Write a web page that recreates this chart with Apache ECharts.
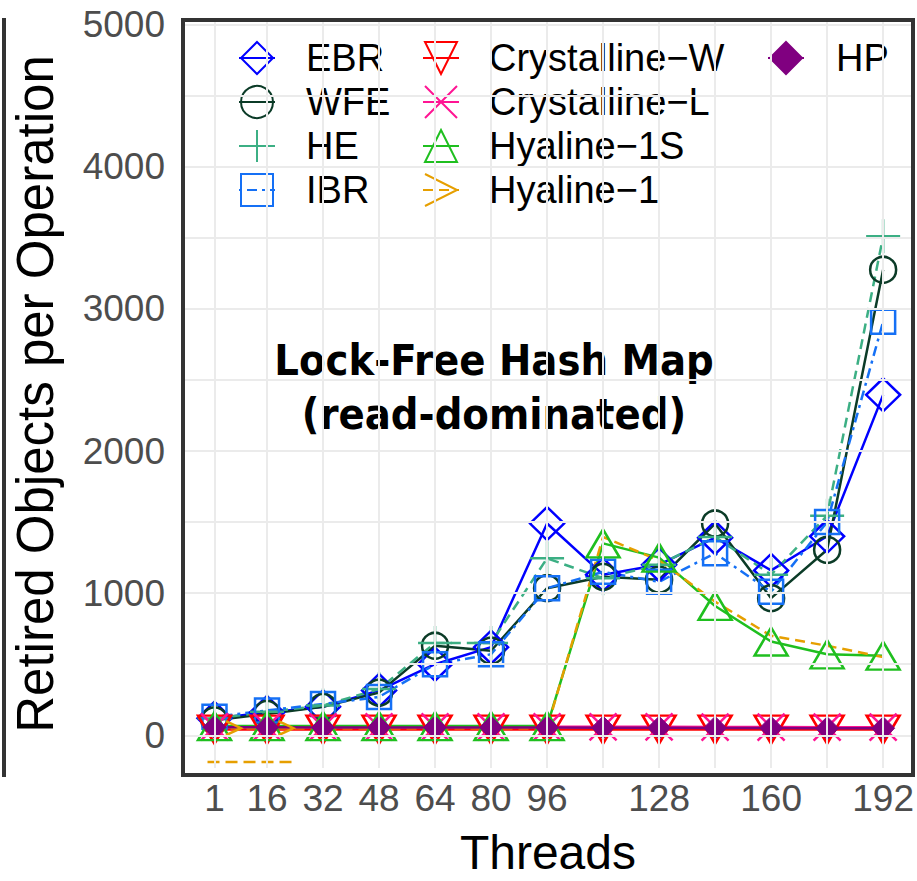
<!DOCTYPE html>
<html><head><meta charset="utf-8">
<script src="https://cdn.jsdelivr.net/npm/echarts@6/dist/echarts.min.js"></script>
<style>html,body{margin:0;padding:0;background:#fff}#c{width:917px;height:881px}</style>
</head><body><div id="c"></div>
<script>
// ---------------- data ----------------
const threads = [1, 16, 32, 48, 64, 80, 96, 112, 128, 144, 160, 176, 192];
const xTickLabels = [1, 16, 32, 48, 64, 80, 96, 128, 160, 192];
const yTickLabels = [0, 1000, 2000, 3000, 4000, 5000];
const yGridValues = [0, 500, 1000, 1500, 2000, 2500, 3000, 3500, 4000, 4500, 5000];

const ebr         = [120, 160, 200, 316, 500, 620, 1490, 1130, 1200, 1390, 1160, 1400, 2395];
const wfe         = [105, 150, 200, 300, 630, 595, 1035, 1115, 1095, 1490, 965, 1305, 3275];
const he          = [118, 165, 210, 325, 650, 650, 1245, 1105, 1200, 1395, 1130, 1545, 3510];
const ibr         = [130, 175, 220, 270, 500, 570, 1035, 1150, 1080, 1280, 1010, 1500, 2910];
const crystW      = [40, 40, 40, 40, 40, 40, 40, 40, 40, 40, 40, 40, 40];
const crystL      = [60, 60, 60, 60, 60, 60, 60, 60, 60, 58, 58, 57, 57];
const hyaline1S   = [65, 65, 65, 65, 65, 65, 65, 1350, 1250, 910, 660, 570, 560];
const hyaline1    = [50, 50, 50, 50, 50, 50, 50, 1395, 1230, 940, 700, 630, 550];
const hp          = [56, 56, 55, 55, 55, 55, 55, 54, 53, 52, 52, 50, 50];
// stray Hyaline-1 dashes drawn below zero near the left edge
const strayX = [-1, 23.6];
const strayY = [-188, -188];
const hyaline1MarkerMaxThreads = 16;

// ---------------- layout ----------------
const FONT = '"Liberation Sans", Arial, Helvetica, sans-serif';
const G = {left: 183, top: 20, width: 730, height: 755};
const LW = 2.5;

const SYM = {
  plus: 'path://M10,0L10,20M0,10L20,10',
  cross: 'path://M0,0L20,20M0,20L20,0',
  chevron: 'path://M0,0L20,10L0,20'
};

function mk(name, values, color, symbol, size, lineType, extra) {
  const s = {
    name: name, type: 'line',
    data: threads.map((t, i) => [t, values[i]]),
    symbol: symbol, symbolSize: size, showSymbol: true, showAllSymbol: true,
    lineStyle: {color: color, width: LW, type: lineType},
    itemStyle: {color: 'transparent', borderColor: color, borderWidth: LW},
    emphasis: {disabled: true},
    z: 2
  };
  return Object.assign(s, extra || {});
}

const series = [
  {
    type: 'line', data: [], silent: true, z: 0,
    markLine: {
      silent: true, symbol: ['none', 'none'], animation: false,
      label: {show: false}, emphasis: {disabled: true},
      lineStyle: {color: '#ebebeb', width: 2, type: 'solid'},
      data: yGridValues.map(v => ({yAxis: v})).concat(threads.map(t => ({xAxis: t})))
    }
  },
  mk('EBR', ebr, '#0000ff', 'diamond', [34, 33], 'solid'),
  mk('WFE', wfe, '#0b3b27', 'circle', 26, 'solid'),
  mk('HE', he, '#3caf84', SYM.plus, 34, [10, 6]),
  mk('IBR', ibr, '#1570f5', 'rect', 24, [3, 5, 10, 5]),
  mk('Crystalline\u2212W', crystW, '#ff0000', 'triangle', [33, 28], 'solid', {symbolRotate: 180}),
  mk('Crystalline\u2212L', crystL, '#ff1493', SYM.cross, 27, 'solid'),
  mk('Hyaline\u22121S', hyaline1S, '#1fbf1f', 'triangle', [33, 28], 'solid'),
  (function () {
    const s = mk('Hyaline\u22121', hyaline1, '#e69f00', SYM.chevron, [15, 14], [10, 6]);
    s.data = threads.map((t, i) => ({value: [t, hyaline1[i]], symbol: t <= hyaline1MarkerMaxThreads ? SYM.chevron : 'none'}));
    s.symbolOffset = [19, 0];
    return s;
  })(),
  {
    type: 'line', silent: true, z: 2, symbol: 'none',
    data: strayX.map((x, i) => [x, strayY[i]]),
    lineStyle: {color: '#e69f00', width: LW, type: [12, 6]}
  },
  mk('HP', hp, '#800080', 'diamond', 23, 'solid', {itemStyle: {color: '#800080', borderColor: '#800080', borderWidth: 1}})
];

function legendCol(names, left, pad) {
  return {
    data: names, orient: 'vertical', left: left, top: 36, padding: 0,
    itemWidth: 36, itemHeight: 40, itemGap: 0, selectedMode: false,
    formatter: '{g|}{t|{name}}',
    textStyle: {
      fontFamily: FONT, fontSize: 38, color: '#000', lineHeight: 44,
      rich: {
        g: {width: pad, height: 44},
        t: {fontFamily: FONT, fontSize: 38, color: '#000', lineHeight: 44}
      }
    }
  };
}

const option = {
  animation: false,
  backgroundColor: '#fff',
  grid: {left: G.left, top: G.top, width: G.width, height: G.height, show: false},
  xAxis: {
    type: 'value', min: -8, max: 200.5,
    axisLine: {show: false}, splitLine: {show: false},
    axisTick: {show: true, customValues: xTickLabels, length: 10, lineStyle: {color: '#333', width: 2}},
    axisLabel: {customValues: xTickLabels, formatter: v => String(v), fontFamily: FONT, fontSize: 37, color: '#4d4d4d', margin: 12},
    name: 'Threads', nameLocation: 'middle', nameGap: 60,
    nameTextStyle: {fontFamily: FONT, fontSize: 48, color: '#000'}
  },
  yAxis: {
    type: 'value', min: -230, max: 5032,
    axisLine: {show: false}, splitLine: {show: false},
    axisTick: {show: true, customValues: yTickLabels, length: 10, lineStyle: {color: '#333', width: 2}},
    axisLabel: {customValues: yTickLabels, formatter: v => String(v), fontFamily: FONT, fontSize: 37, color: '#4d4d4d', margin: 18},
    name: 'Retired Objects per Operation', nameLocation: 'middle', nameRotate: 90, nameGap: 122,
    nameTextStyle: {fontFamily: FONT, fontSize: 51, color: '#000'}
  },
  legend: [
    legendCol(['EBR', 'WFE', 'HE', 'IBR'], 238, 26),
    legendCol(['Crystalline\u2212W', 'Crystalline\u2212L', 'Hyaline\u22121S', 'Hyaline\u22121'], 422, 25),
    legendCol(['HP'], 767, 27)
  ],
  graphic: [
    {type: 'rect', z: 1, silent: true, shape: {x: 195, y: 22, width: 716, height: 203}, style: {fill: '#fff'}},
    {type: 'text', z: 1, silent: true, x: 494, y: 333,
      style: {text: 'Lock-Free Hash Map\n(read-dominated)', fill: '#000', align: 'center', verticalAlign: 'top',
        fontFamily: '"DejaVu Sans Condensed", "Open Sans", sans-serif', fontWeight: 'bold', fontSize: 43, lineHeight: 54}},
    {type: 'rect', z: 100, silent: true, shape: {x: G.left, y: G.top, width: G.width, height: G.height},
      style: {fill: 'none', stroke: '#333', lineWidth: 4}},
    {type: 'rect', z: 100, silent: true, shape: {x: 2, y: 18, width: 4, height: 759}, style: {fill: '#333'}}
  ],
  series: series
};

const chart = echarts.init(document.getElementById('c'), null, {renderer: 'svg'});
chart.setOption(option);
</script>
</body></html>
